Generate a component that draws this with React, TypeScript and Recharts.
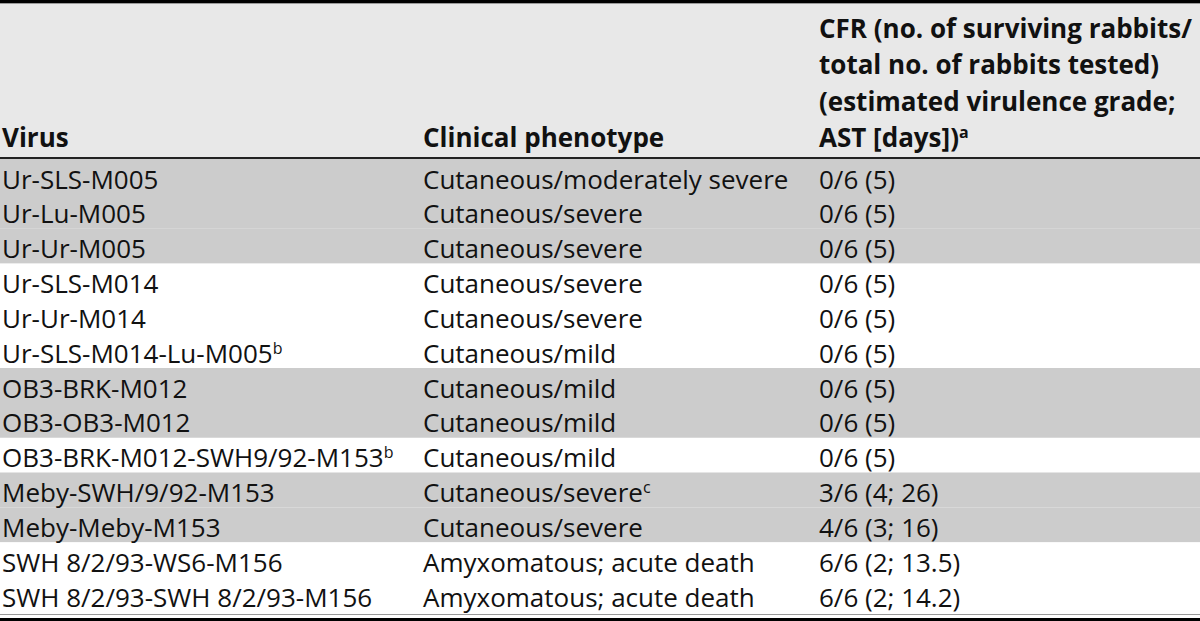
import { BarChart, Bar, XAxis, YAxis, Cell, LabelList, Customized } from "recharts";

const viruses = [
  "Ur-SLS-M005",
  "Ur-Lu-M005",
  "Ur-Ur-M005",
  "Ur-SLS-M014",
  "Ur-Ur-M014",
  "Ur-SLS-M014-Lu-M005",
  "OB3-BRK-M012",
  "OB3-OB3-M012",
  "OB3-BRK-M012-SWH9/92-M153",
  "Meby-SWH/9/92-M153",
  "Meby-Meby-M153",
  "SWH 8/2/93-WS6-M156",
  "SWH 8/2/93-SWH 8/2/93-M156",
];
const virusNotes = ["", "", "", "", "", "b", "", "", "b", "", "", "", ""];

const phenotypes = [
  "Cutaneous/moderately severe",
  "Cutaneous/severe",
  "Cutaneous/severe",
  "Cutaneous/severe",
  "Cutaneous/severe",
  "Cutaneous/mild",
  "Cutaneous/mild",
  "Cutaneous/mild",
  "Cutaneous/mild",
  "Cutaneous/severe",
  "Cutaneous/severe",
  "Amyxomatous; acute death",
  "Amyxomatous; acute death",
];
const phenotypeNotes = ["", "", "", "", "", "", "", "", "", "c", "", "", ""];

const cfr = [
  "0/6 (5)",
  "0/6 (5)",
  "0/6 (5)",
  "0/6 (5)",
  "0/6 (5)",
  "0/6 (5)",
  "0/6 (5)",
  "0/6 (5)",
  "0/6 (5)",
  "3/6 (4; 26)",
  "4/6 (3; 16)",
  "6/6 (2; 13.5)",
  "6/6 (2; 14.2)",
];

// which rows sit on a grey band
const shaded = [1, 1, 1, 0, 0, 0, 1, 1, 0, 1, 1, 0, 0];

const headerLines = [
  "CFR (no. of surviving rabbits/",
  "total no. of rabbits tested)",
  "(estimated virulence grade;",
  "AST [days])",
];

const rows = viruses.map((v, i) => ({
  virus: v,
  phenotype: phenotypes[i],
  cfr: cfr[i],
  band: 1,
}));

const W = 1200;
const H = 621;
const FONT = "'Open Sans', 'Noto Sans', sans-serif";
const FS = 26;
const SUP = 16;
const colX = [2, 423, 819];

function cellText(col: number, notes?: string[]) {
  return (props: any) => {
    const { y, height, value, index } = props;
    const note = notes ? notes[index] : "";
    return (
      <text
        x={colX[col]}
        y={Number(y) + Number(height) / 2 + 12}
        fontFamily={FONT}
        fontSize={FS}
        fill="#111"
      >
        {value}
        {note && (
          <tspan fontSize={SUP} dy={-9}>
            {note}
          </tspan>
        )}
      </text>
    );
  };
}

function Header() {
  return (
    <g>
      <rect x={0} y={3} width={W} height={154} fill="#e8e8e8" />
      <rect x={0} y={0} width={W} height={3} fill="#000" />
      <rect x={0} y={3} width={W} height={1} fill="#999" />
      <rect x={0} y={157} width={W} height={2} fill="#222" />
      <text x={colX[0]} y={147} fontFamily={FONT} fontSize={FS} fontWeight={700} fill="#111">
        Virus
      </text>
      <text x={colX[1]} y={147} fontFamily={FONT} fontSize={FS} fontWeight={700} fill="#111">
        Clinical phenotype
      </text>
      {headerLines.map((l, i) => (
        <text
          key={i}
          x={colX[2]}
          y={38 + i * 36.4}
          fontFamily={FONT}
          fontSize={FS}
          fontWeight={700}
          fill="#111"
        >
          {l}
          {i === headerLines.length - 1 && (
            <tspan fontSize={SUP} dy={-9}>
              a
            </tspan>
          )}
        </text>
      ))}
      <rect x={0} y={614} width={W} height={1} fill="#999" />
      <rect x={0} y={618} width={W} height={3} fill="#000" />
    </g>
  );
}

export default function App() {
  return (
    <div style={{ position: "absolute", left: 0, top: 0, background: "#fff" }}>
      <BarChart
        width={W}
        height={H}
        data={rows}
        layout="vertical"
        margin={{ top: 159, right: 0, bottom: 9, left: 0 }}
        barCategoryGap={0}
      >
        <XAxis type="number" domain={[0, 1]} hide />
        <YAxis type="category" dataKey="virus" hide width={0} />
        <Bar dataKey="band" isAnimationActive={false}>
          {rows.map((_, i) => (
            <Cell key={i} fill={shaded[i] ? "#cccccc" : "#ffffff"} />
          ))}
          <LabelList dataKey="virus" content={cellText(0, virusNotes)} />
          <LabelList dataKey="phenotype" content={cellText(1, phenotypeNotes)} />
          <LabelList dataKey="cfr" content={cellText(2)} />
        </Bar>
        <Customized component={<Header />} />
      </BarChart>
    </div>
  );
}
